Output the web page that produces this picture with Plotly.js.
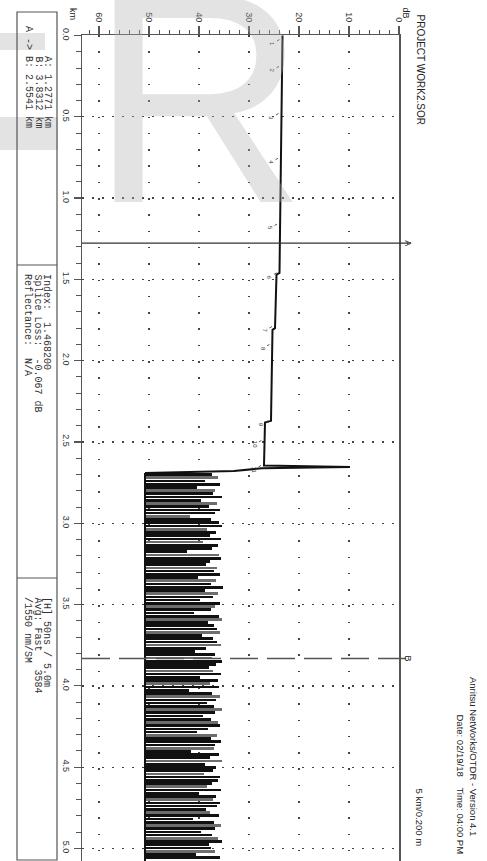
<!DOCTYPE html>
<html>
<head>
<meta charset="utf-8">
<script src="https://cdn.plot.ly/plotly-3.0.1.min.js"></script>
<style>html,body{margin:0;padding:0;background:#fff;}#chart{width:487px;height:861px;}</style>
</head>
<body>
<div id="chart"></div>
<script>
// ---- data ----
const dbTicks = [0, 10, 20, 30, 40, 50, 60];
const kmTicks = [0, 0.5, 1.0, 1.5, 2.0, 2.5, 3.0, 3.5, 4.0, 4.5, 5.0];
const kmTickText = ["0.0","0.5","1.0","1.5","2.0","2.5","3.0","3.5","4.0","4.5","5.0"];

// main fibre trace (distance km, level dB)
const traceKm = [0.0, 1.46, 1.47, 1.80, 1.81, 2.37, 2.38, 2.645, 2.654, 2.662, 2.678, 2.69];
const traceDb = [23.3, 23.9, 24.5, 24.8, 25.3, 25.6, 26.8, 27.0, 9.8, 27.4, 33.0, 50.8];

// noise floor after fibre end
const noiseFloorDb = 50.8;
const noiseStartKm = 2.70;
const noiseStepKm = 0.0198;
const noisePeakDb = [37.5,36.2,38.8,35.9,40.5,36.8,37.2,35.4,39.7,36.5,
  38.1,35.8,36.9,41.8,37.6,36.1,35.5,38.4,36.7,37.9,
  35.7,39.2,36.3,37.4,42.5,36.0,35.6,37.8,38.6,36.4,
  37.1,35.9,40.2,36.6,37.7,35.3,38.9,36.2,37.3,39.8,
  35.8,36.9,37.6,41.1,36.1,35.5,38.3,37.0,36.5,35.9,
  39.5,37.2,36.4,35.7,38.7,40.8,36.8,37.5,35.4,36.6,
  38.0,37.3,35.6,39.9,36.3,37.8,36.0,42.1,37.4,35.8,
  36.7,38.5,37.1,35.5,36.9,39.3,37.7,36.2,35.9,38.2,
  40.4,36.5,37.6,35.7,36.8,37.0,41.6,36.1,37.9,35.4,
  38.8,36.6,37.2,39.1,35.8,36.3,37.5,38.4,35.6,40.0,
  36.7,37.3,35.9,36.4,38.6,37.8,36.0,41.3,37.1,35.7,
  36.9,39.6,37.4,36.2,35.5,38.1,37.6,36.8,40.7,35.9];

// event markers on the trace (km) and their labels
const eventKm = [0.025, 0.19, 0.48, 0.755, 1.16, 1.46, 1.79, 1.90, 2.37, 2.49, 2.645];
const eventDb = [23.3, 23.4, 23.5, 23.6, 23.8, 23.9, 24.8, 25.3, 25.6, 26.9, 27.0];
const eventLabel = ["1","2","3","4","5","6","7","8","9","10","11"];

// cursors
const cursorName = ["A", "B"];
const cursorKm = [1.2771, 3.8312];

// info boxes
const box1 = ["\u00a0\u00a0\u00a0\u00a0\u00a0A: 1.2771 km", "\u00a0\u00a0\u00a0\u00a0\u00a0B: 3.8312 km", "A -> B: 2.5541 km"];
const box2 = ["Index:\u00a0\u00a01.468200", "Splice Loss:\u00a0\u00a0-0.067 dB", "Reflectance:\u00a0\u00a0N/A"];
const box3 = ["[H]\u00a050ns\u00a0/\u00a05.0m", "Avg:\u00a0Fast\u00a0\u00a0\u00a03584", "/1550\u00a0nm/SM"];

const titleText = "PROJECT WORK2.SOR";
const versionText = "Anritsu NetWorks/OTDR - Version 4.1";
const dateText = "Date: 02/19/18\u00a0\u00a0\u00a0\u00a0Time: 04:00 PM";
const scaleText = "5 km/0.200 m";

// ---- layout helpers ----
const W = 487, H = 861;
const M = {l: 82, r: 88, t: 35, b: 0};
const PW = W - M.l - M.r, PH = H - M.t - M.b;
const px = x => (x - M.l) / PW;
const py = y => 1 - (y - M.t) / PH;

const noiseKm = noisePeakDb.map((_, i) => noiseStartKm + i * noiseStepKm);
const noiseLen = noisePeakDb.map(v => v - noiseFloorDb);
const noiseCol = noisePeakDb.map((_, i) => (i % 4 === 1 ? '#6d6d6d' : '#111'));

const data = [
  {type: 'bar', orientation: 'h', y: noiseKm, x: noiseLen, base: noiseFloorDb,
   width: 0.0165, marker: {color: noiseCol, line: {width: 0}}, hoverinfo: 'skip'},
  {type: 'scatter', mode: 'lines', x: [noiseFloorDb, noiseFloorDb], y: [traceKm[traceKm.length-1], 5.2],
   line: {color: '#111', width: 2}, hoverinfo: 'skip'},
  {type: 'scatter', mode: 'lines', x: traceDb, y: traceKm,
   line: {color: '#111', width: 2}, hoverinfo: 'skip'}
];

const shapes = [];
const annotations = [];
const mono = 'Liberation Mono, DejaVu Sans Mono, monospace';
const sans = 'Liberation Sans, Arial, sans-serif';

// watermark fragments (left letter arms)
const wm = 'rgba(175,175,175,0.35)';
shapes.push({type: 'rect', xref: 'paper', yref: 'paper', layer: 'below', x0: px(0), x1: px(45), y0: py(50), y1: py(33),
  fillcolor: wm, line: {width: 0}});
shapes.push({type: 'rect', xref: 'paper', yref: 'paper', layer: 'below', x0: px(0), x1: px(58), y0: py(150), y1: py(117),
  fillcolor: wm, line: {width: 0}});

// cursors
cursorKm.forEach((k, i) => {
  shapes.push({type: 'line', xref: 'paper', yref: 'y', x0: 0, x1: px(411), y0: k, y1: k,
    line: {color: i === 0 ? '#333' : '#555', width: i === 0 ? 1.2 : 1.6, dash: i === 0 ? 'solid' : '28px,9px'}});
  annotations.push({xref: 'paper', yref: 'y', x: px(415), y: k, text: cursorName[i], showarrow: false,
    textangle: 90, font: {family: sans, size: 9, color: '#222'}});
});

// event markers
eventKm.forEach((k, i) => {
  annotations.push({x: eventDb[i] + 0.6, y: k, xref: 'x', yref: 'y', text: eventLabel[i],
    showarrow: true, arrowhead: 0, arrowwidth: 0.8, arrowcolor: '#333', ax: -7, ay: 4,
    font: {family: sans, size: 6, color: '#333'}, textangle: 90});
});

// info boxes
const bx0 = 17, bx1 = 57;
shapes.push({type: 'rect', xref: 'paper', yref: 'paper', x0: px(bx0), x1: px(bx1), y0: py(860), y1: py(12),
  line: {color: '#555', width: 1.2}});
[265, 578].forEach(yy => shapes.push({type: 'line', xref: 'paper', yref: 'paper', x0: px(bx0), x1: px(bx1),
  y0: py(yy), y1: py(yy), line: {color: '#555', width: 1.2}}));
const lineX = [47, 37.5, 28];
[[box1, 24], [box2, 272], [box3, 595]].forEach(([lines, top]) => {
  lines.forEach((t, j) => annotations.push({xref: 'paper', yref: 'paper', x: px(lineX[j]), y: py(top),
    xanchor: 'center', yanchor: 'top', text: t, showarrow: false, textangle: 90,
    font: {family: mono, size: 10, color: '#333'}}));
});

// axis titles
annotations.push({xref: 'paper', yref: 'paper', x: px(66), y: py(6), yanchor: 'top', text: 'km', showarrow: false,
  textangle: 90, font: {family: sans, size: 9, color: '#222'}});
annotations.push({xref: 'paper', yref: 'paper', x: px(413), y: py(5), yanchor: 'top', text: 'dB', showarrow: false,
  textangle: 90, font: {family: sans, size: 9, color: '#222'}});

// right side text
annotations.push({xref: 'paper', yref: 'paper', x: px(428), y: py(12), yanchor: 'top', text: titleText, showarrow: false,
  textangle: 90, font: {family: sans, size: 10, color: '#222'}});
annotations.push({xref: 'paper', yref: 'paper', x: px(427), y: py(787), yanchor: 'top', text: scaleText, showarrow: false,
  textangle: 90, font: {family: sans, size: 9.5, color: '#222'}});
annotations.push({xref: 'paper', yref: 'paper', x: px(468), y: py(712), yanchor: 'top', text: dateText, showarrow: false,
  textangle: 90, font: {family: sans, size: 9.5, color: '#222'}});
annotations.push({xref: 'paper', yref: 'paper', x: px(481), y: py(675), yanchor: 'top', text: versionText, showarrow: false,
  textangle: 90, font: {family: sans, size: 9.5, color: '#222'}});

// watermark letter
annotations.push({xref: 'paper', yref: 'paper', x: px(198), y: py(98), xanchor: 'center', yanchor: 'middle',
  text: 'R', showarrow: false, font: {family: sans, size: 300, color: wm}});

const layout = {
  width: W, height: H, margin: M, showlegend: false,
  paper_bgcolor: '#fff', plot_bgcolor: '#fff', bargap: 0,
  xaxis: {range: [63.4, 0], side: 'top', tickvals: dbTicks, tickangle: 90,
    ticks: 'outside', ticklen: 8, tickwidth: 1.2, tickcolor: '#555',
    showline: true, linecolor: '#555', linewidth: 1.5, mirror: false,
    showgrid: true, gridcolor: '#444', gridwidth: 1.3, griddash: '1.5px,14.8px', zeroline: false,
    minor: {dtick: 2, ticks: 'outside', ticklen: 4, tickwidth: 1, tickcolor: '#555', showgrid: false},
    tickfont: {family: sans, size: 9, color: '#333'}, fixedrange: true},
  yaxis: {range: [5.077, -0.003], tickvals: kmTicks, ticktext: kmTickText, tickangle: 90,
    ticks: 'outside', ticklen: 7, tickwidth: 1.2, tickcolor: '#555',
    showline: true, linecolor: '#555', linewidth: 1.5, mirror: true,
    showgrid: true, gridcolor: '#444', gridwidth: 1.3, griddash: '1.5px,8.5px', zeroline: false,
    minor: {dtick: 0.1, ticks: 'outside', ticklen: 5, tickwidth: 1, tickcolor: '#555', showgrid: false},
    tickfont: {family: sans, size: 9, color: '#333'}, fixedrange: true},
  shapes: shapes, annotations: annotations
};

Plotly.newPlot('chart', data, layout, {staticPlot: true, displayModeBar: false});
</script>
</body>
</html>
